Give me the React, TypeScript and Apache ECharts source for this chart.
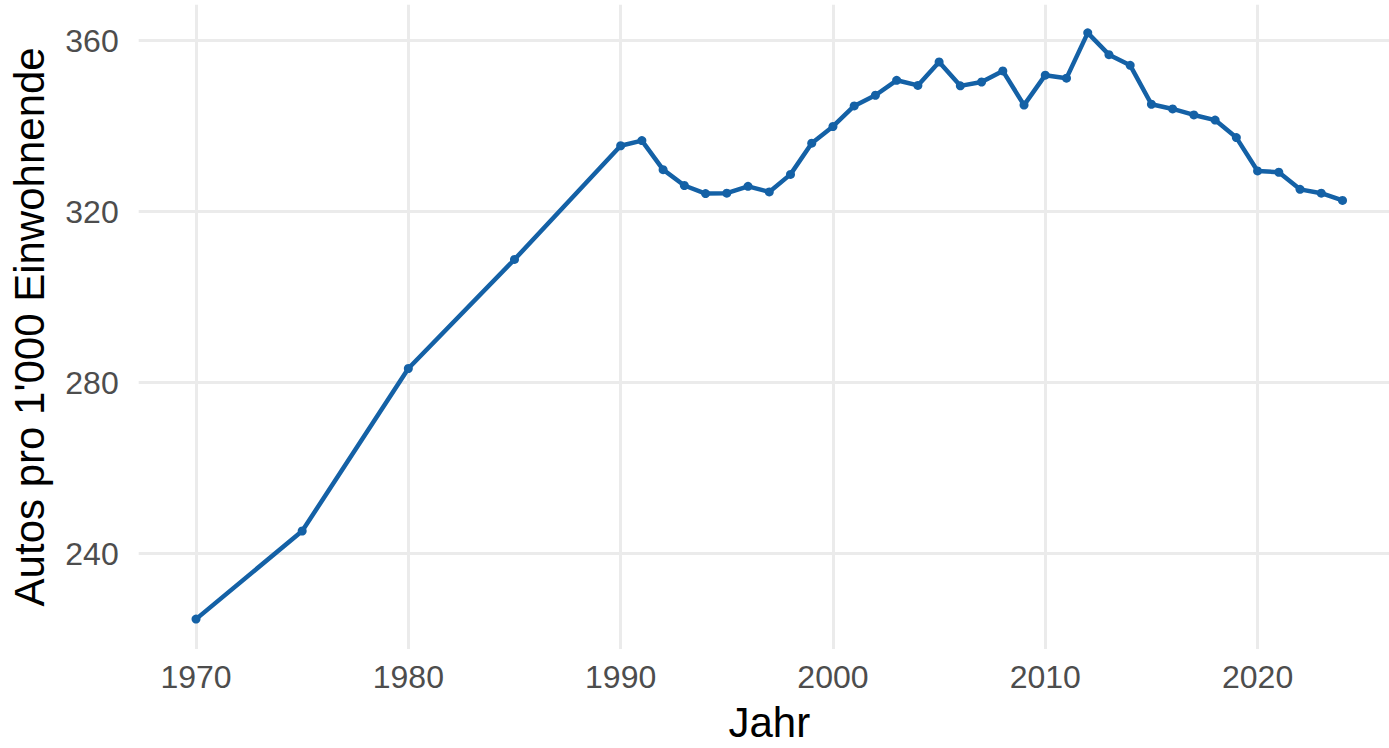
import React, { useEffect, useRef } from "react";
import * as echarts from "echarts";

const years: number[] = [
  1970, 1975, 1980, 1985, 1990, 1991, 1992, 1993, 1994, 1995, 1996, 1997, 1998, 1999,
  2000, 2001, 2002, 2003, 2004, 2005, 2006, 2007, 2008, 2009, 2010, 2011, 2012, 2013,
  2014, 2015, 2016, 2017, 2018, 2019, 2020, 2021, 2022, 2023, 2024,
];
const autosPer1000: number[] = [
  224.7, 245.3, 283.3, 308.8, 335.4, 336.6, 329.8, 326.1, 324.2, 324.3, 325.9, 324.6, 328.7, 336.0,
  339.9, 344.7, 347.2, 350.7, 349.5, 355.0, 349.4, 350.3, 352.9, 344.9, 351.9, 351.2, 361.8, 356.7,
  354.2, 345.1, 344.0, 342.6, 341.4, 337.3, 329.5, 329.2, 325.2, 324.3, 322.6,
];
const xTicks: number[] = [1970, 1980, 1990, 2000, 2010, 2020];
const yTicks: number[] = [240, 280, 320, 360];
const xTitle = "Jahr";
const yTitle = "Autos pro 1'000 Einwohnende";

export default function App() {
  const ref = useRef<HTMLDivElement>(null);
  useEffect(() => {
    if (!ref.current) return;
    const chart = echarts.init(ref.current, null, { renderer: "svg" });
    const font = "'Liberation Sans', Arial, Helvetica, sans-serif";
    chart.setOption({
      animation: false,
      backgroundColor: "#ffffff",
      grid: { left: 138.7, right: 0, top: 4.7, bottom: 96.3, containLabel: false },
      xAxis: {
        type: "value",
        min: 1967.3,
        max: 2026.19,
        name: xTitle,
        nameLocation: "middle",
        nameGap: 52,
        nameTextStyle: { fontFamily: font, fontSize: 42, color: "#000000", padding: [0, 0, 0, 11] },
        axisLine: { show: false },
        axisTick: { show: false, customValues: xTicks },
        axisLabel: {
          customValues: xTicks,
          fontFamily: font,
          fontSize: 32,
          color: "#4D4D4D",
          margin: 12,
          formatter: (v: number) => String(v),
        },
        splitLine: { show: true, lineStyle: { color: "#EBEBEB", width: 3 } },
      },
      yAxis: {
        type: "value",
        min: 217.71,
        max: 368.38,
        name: yTitle,
        nameLocation: "middle",
        nameGap: 88,
        nameTextStyle: { fontFamily: font, fontSize: 42, color: "#000000" },
        axisLine: { show: false },
        axisTick: { show: false, customValues: yTicks },
        axisLabel: {
          customValues: yTicks,
          fontFamily: font,
          fontSize: 32,
          color: "#4D4D4D",
          margin: 20,
        },
        splitLine: { show: true, lineStyle: { color: "#EBEBEB", width: 3 } },
      },
      series: [
        {
          type: "line",
          data: years.map((y, i) => [y, autosPer1000[i]]),
          lineStyle: { color: "#1461A6", width: 4.5 },
          itemStyle: { color: "#1461A6" },
          symbol: "circle",
          symbolSize: 9,
          showSymbol: true,
        },
      ],
    });
    return () => chart.dispose();
  }, []);
  return (
    <div
      ref={ref}
      style={{ position: "absolute", left: 0, top: 0, width: 1389, height: 748 }}
    />
  );
}
